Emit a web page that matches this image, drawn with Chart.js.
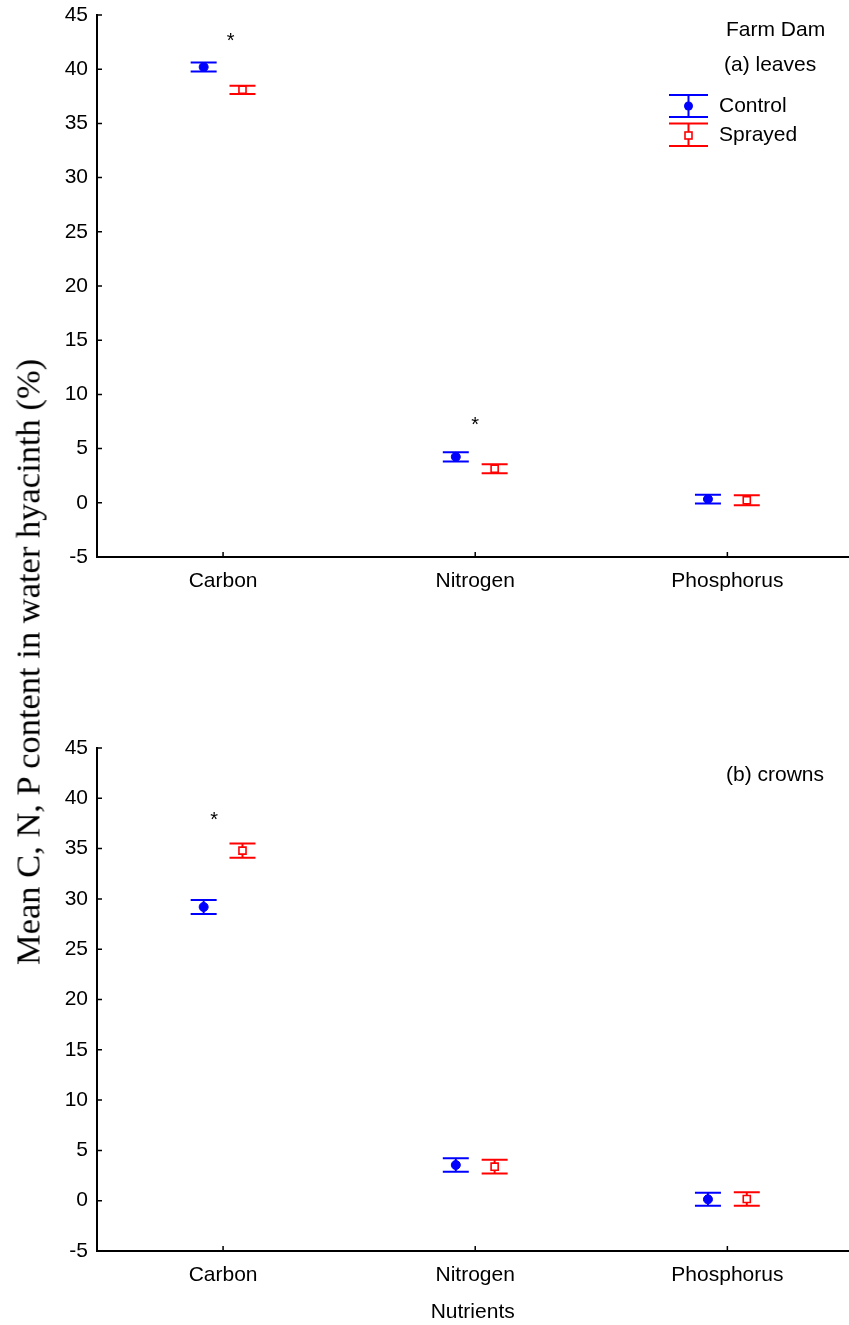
<!DOCTYPE html>
<html>
<head>
<meta charset="utf-8">
<title>C, N, P content in water hyacinth</title>
<script src="https://cdn.jsdelivr.net/npm/chart.js@4.4.1/dist/chart.umd.min.js"></script>
<style>
  body { margin: 0; background: #fff; }
  #page { position: relative; width: 849px; height: 1325px; overflow: hidden; }
  #leaves { position: absolute; left: 0; top: -10px; }
  #crowns { position: absolute; left: 0; top: 701px; }
  #ytitle {
    position: absolute; left: 28px; top: 662px;
    font-family: "Liberation Serif", "Times New Roman", serif;
    font-size: 34.5px; white-space: nowrap; color: #000;
    transform: translate(-50%, -50%) rotate(-90deg);
  }
</style>
</head>
<body>
<div id="page">
  <canvas id="leaves" width="855" height="610"></canvas>
  <canvas id="crowns" width="855" height="624"></canvas>
  <div id="ytitle">Mean C, N, P content in water hyacinth (%)</div>
</div>
<script>
// categories and y axis
const nutrients = ['Carbon', 'Nitrogen', 'Phosphorus'];
const yMin = -5, yMax = 45, yStep = 5;

// (a) leaves: means and standard errors
const leavesControl    = [40.2, 4.24, 0.34];
const leavesControlErr = [0.42, 0.42, 0.40];
const leavesSprayed    = [38.1, 3.14, 0.23];
const leavesSprayedErr = [0.38, 0.42, 0.46];
// significance stars: [x position, height]
const leavesStars = [[1.03, 42.9], [2.0, 7.5]];

// (b) crowns
const crownsControl    = [29.2, 3.55, 0.14];
const crownsControlErr = [0.70, 0.68, 0.65];
const crownsSprayed    = [34.8, 3.38, 0.17];
const crownsSprayedErr = [0.70, 0.68, 0.66];
const crownsStars = [[0.965, 38.2]];

const BLUE = '#0000ff';
const RED = '#ff0000';
const FONT = '"Liberation Sans", Arial, sans-serif';
const GROUP_OFFSET = 0.077;

function series(label, values, errs, shift, color, style) {
  return {
    label: label,
    data: values.map((v, i) => ({ x: i + 1 + shift, y: v })),
    errors: errs,
    borderColor: color,
    backgroundColor: style === 'circle' ? color : '#fff',
    pointStyle: style,
    pointRadius: style === 'circle' ? 4.5 : 5,
    pointBorderWidth: style === 'circle' ? 1 : 1.6,
    showLine: false
  };
}

// error bars, inward ticks, stars and text labels
const extras = {
  id: 'extras',
  beforeDatasetsDraw(chart) {
    const ctx = chart.ctx;
    const y = chart.scales.y;
    ctx.save();
    ctx.lineWidth = 2;
    chart.data.datasets.forEach((ds, di) => {
      const meta = chart.getDatasetMeta(di);
      ctx.strokeStyle = ds.borderColor;
      meta.data.forEach((pt, i) => {
        const v = ds.data[i].y, e = ds.errors[i];
        const top = y.getPixelForValue(v + e);
        const bot = y.getPixelForValue(v - e);
        ctx.beginPath();
        ctx.moveTo(pt.x, top); ctx.lineTo(pt.x, bot);
        ctx.moveTo(pt.x - 13, top); ctx.lineTo(pt.x + 13, top);
        ctx.moveTo(pt.x - 13, bot); ctx.lineTo(pt.x + 13, bot);
        ctx.stroke();
      });
    });
    ctx.restore();
  },
  afterDraw(chart, args, opts) {
    const ctx = chart.ctx;
    const xs = chart.scales.x, ys = chart.scales.y;
    const area = chart.chartArea;
    ctx.save();
    // inward tick marks
    ctx.strokeStyle = '#000';
    ctx.lineWidth = 1.5;
    ctx.beginPath();
    nutrients.forEach((n, i) => {
      const px = xs.getPixelForValue(i + 1);
      ctx.moveTo(px, area.bottom); ctx.lineTo(px, area.bottom - 5);
    });
    for (let v = yMin; v <= yMax; v += yStep) {
      const py = ys.getPixelForValue(v);
      ctx.moveTo(area.left, py); ctx.lineTo(area.left + 5, py);
    }
    ctx.stroke();
    // significance stars
    ctx.fillStyle = '#000';
    ctx.font = '20px ' + FONT;
    ctx.textAlign = 'center';
    ctx.textBaseline = 'middle';
    (opts.stars || []).forEach(s => {
      ctx.fillText('*', xs.getPixelForValue(s[0]), ys.getPixelForValue(s[1]) + 4);
    });
    // panel labels
    ctx.font = '21px ' + FONT;
    ctx.textAlign = 'left';
    (opts.labels || []).forEach(l => ctx.fillText(l.text, l.x, l.y));
    // legend
    if (opts.legend) {
      const cx = 688.5, hw = 19.5;
      const items = [
        { text: 'Control', color: BLUE, top: 105, bot: 127, mid: 116, style: 'circle' },
        { text: 'Sprayed', color: RED, top: 133.5, bot: 156, mid: 145.5, style: 'rect' }
      ];
      items.forEach(it => {
        ctx.strokeStyle = it.color;
        ctx.lineWidth = 2;
        ctx.beginPath();
        ctx.moveTo(cx - hw, it.top); ctx.lineTo(cx + hw, it.top);
        ctx.moveTo(cx - hw, it.bot); ctx.lineTo(cx + hw, it.bot);
        ctx.moveTo(cx, it.top); ctx.lineTo(cx, it.bot);
        ctx.stroke();
        if (it.style === 'circle') {
          ctx.fillStyle = it.color;
          ctx.beginPath(); ctx.arc(cx, it.mid, 4.5, 0, Math.PI * 2); ctx.fill();
        } else {
          ctx.fillStyle = '#fff';
          ctx.lineWidth = 1.6;
          ctx.fillRect(cx - 3.5, it.mid - 3.5, 7, 7);
          ctx.strokeRect(cx - 3.5, it.mid - 3.5, 7, 7);
        }
        ctx.fillStyle = '#000';
        ctx.fillText(it.text, 719, it.mid);
      });
    }
    ctx.restore();
  }
};

function makeChart(id, datasets, padTop, xHeight, extraOpts, showTitle) {
  return new Chart(document.getElementById(id), {
    type: 'scatter',
    data: { datasets: datasets },
    options: {
      responsive: false,
      animation: false,
      layout: { padding: { top: padTop, right: 0, left: 0, bottom: 0 } },
      plugins: {
        legend: { display: false },
        tooltip: { enabled: false },
        extras: extraOpts
      },
      scales: {
        x: {
          type: 'linear',
          min: 0.5,
          max: 3.48,
          afterBuildTicks: axis => { axis.ticks = nutrients.map((n, i) => ({ value: i + 1 })); },
          afterFit: axis => { axis.height = xHeight; },
          grid: { display: false, drawTicks: false },
          border: { display: true, color: '#000', width: 2 },
          ticks: {
            color: '#000',
            font: { family: FONT, size: 21 },
            padding: 12,
            maxRotation: 0,
            callback: v => nutrients[v - 1]
          },
          title: {
            display: showTitle,
            text: 'Nutrients',
            color: '#000',
            font: { family: FONT, size: 21 },
            padding: { top: 0, bottom: 0 }
          }
        },
        y: {
          min: yMin,
          max: yMax,
          afterFit: axis => { axis.width = 97; },
          grid: { display: false, drawTicks: false },
          border: { display: true, color: '#000', width: 2 },
          ticks: {
            stepSize: yStep,
            color: '#000',
            font: { family: FONT, size: 21 },
            padding: 9
          }
        }
      }
    },
    plugins: [extras]
  });
}

makeChart('leaves', [
  series('Control', leavesControl, leavesControlErr, -GROUP_OFFSET, BLUE, 'circle'),
  series('Sprayed', leavesSprayed, leavesSprayedErr, GROUP_OFFSET, RED, 'rect')
], 25, 43, {
  stars: leavesStars,
  legend: true,
  labels: [{ text: 'Farm Dam', x: 726, y: 40 }, { text: '(a) leaves', x: 724, y: 75 }]
}, false);

makeChart('crowns', [
  series('Control', crownsControl, crownsControlErr, -GROUP_OFFSET, BLUE, 'circle'),
  series('Sprayed', crownsSprayed, crownsSprayedErr, GROUP_OFFSET, RED, 'rect')
], 47, 74, {
  stars: crownsStars,
  labels: [{ text: '(b) crowns', x: 726, y: 74 }]
}, true);
</script>
</body>
</html>
